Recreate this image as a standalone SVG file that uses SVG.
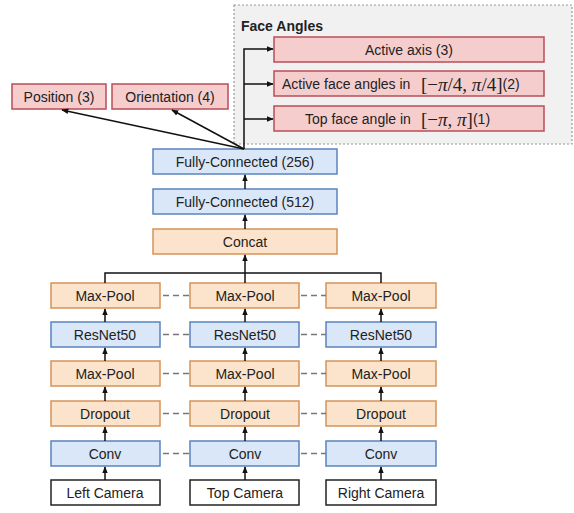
<svg xmlns="http://www.w3.org/2000/svg" width="574" height="513" viewBox="0 0 574 513">
<defs>
<style>
text{font-family:"Liberation Sans",Arial,sans-serif;font-size:14px;fill:#222;text-anchor:middle;dominant-baseline:central}
.s{text-anchor:start}
.m{font-family:"Liberation Serif","Times New Roman",serif;font-size:19px}
.mi{font-style:italic}
.o rect{fill:#fce4cc;stroke:#d4935a;stroke-width:1.5}
.b rect{fill:#d9e7f8;stroke:#5a84bd;stroke-width:1.5}
.r rect{fill:#f6cdcd;stroke:#b84d55;stroke-width:1.5}
.w rect{fill:#fff;stroke:#222;stroke-width:1.5}
.c{stroke:#111;stroke-width:1.5;fill:none}
.d{stroke:#777;stroke-width:1.3;stroke-dasharray:6 4;fill:none}
</style>
<marker id="a" viewBox="0 0 10 10" refX="9" refY="5" markerWidth="7" markerHeight="7" orient="auto-start-reverse" markerUnits="userSpaceOnUse"><path d="M0,1 L10,5 L0,9 z" fill="#111"/></marker>
</defs>
<rect width="574" height="513" fill="#fff"/>
<g id="faceAnglesGroup">
<rect x="234" y="5" width="338" height="139" fill="#f1f1f1" stroke="#999" stroke-width="1.2" stroke-dasharray="2 2"/>
<text x="241" y="26" class="s" style="font-weight:bold;font-size:14px">Face Angles</text>
</g>
<g id="n_axis" class="r"><rect x="274" y="37" width="270" height="25"/><text x="409" y="50">Active axis (3)</text></g>
<g id="n_active" class="r"><rect x="274" y="71" width="270" height="25"/><text x="282" y="84" class="s"><tspan>Active face angles in</tspan><tspan class="m" x="421">[−<tspan class="mi">π</tspan>/4, <tspan class="mi">π</tspan>/4]</tspan><tspan>(2)</tspan></text></g>
<g id="n_top" class="r"><rect x="274" y="106" width="270" height="25"/><text x="305" y="119" class="s"><tspan>Top face angle in</tspan><tspan class="m" x="421">[−<tspan class="mi">π</tspan>, <tspan class="mi">π</tspan>]</tspan><tspan>(1)</tspan></text></g>
<g id="n_pos" class="r"><rect x="12" y="84" width="94" height="25"/><text x="59" y="97">Position (3)</text></g>
<g id="n_ori" class="r"><rect x="112" y="84" width="116" height="25"/><text x="170" y="97">Orientation (4)</text></g>
<g id="n_fc256" class="b"><rect x="153" y="149" width="184" height="25"/><text x="245" y="162">Fully-Connected (256)</text></g>
<g id="n_fc512" class="b"><rect x="153" y="189" width="184" height="25"/><text x="245" y="202">Fully-Connected (512)</text></g>
<g id="n_concat" class="o"><rect x="153" y="229" width="184" height="25"/><text x="245" y="242">Concat</text></g>
<g id="n_mp1_l" class="o"><rect x="51" y="283" width="109" height="25"/><text x="105" y="296">Max-Pool</text></g>
<g id="n_mp1_m" class="o"><rect x="190" y="283" width="109" height="25"/><text x="245" y="296">Max-Pool</text></g>
<g id="n_mp1_r" class="o"><rect x="326" y="283" width="110" height="25"/><text x="381" y="296">Max-Pool</text></g>
<g id="n_res_l" class="b"><rect x="51" y="322" width="109" height="25"/><text x="105" y="335">ResNet50</text></g>
<g id="n_res_m" class="b"><rect x="190" y="322" width="109" height="25"/><text x="245" y="335">ResNet50</text></g>
<g id="n_res_r" class="b"><rect x="326" y="322" width="110" height="25"/><text x="381" y="335">ResNet50</text></g>
<g id="n_mp2_l" class="o"><rect x="51" y="361" width="109" height="25"/><text x="105" y="374">Max-Pool</text></g>
<g id="n_mp2_m" class="o"><rect x="190" y="361" width="109" height="25"/><text x="245" y="374">Max-Pool</text></g>
<g id="n_mp2_r" class="o"><rect x="326" y="361" width="110" height="25"/><text x="381" y="374">Max-Pool</text></g>
<g id="n_do_l" class="o"><rect x="51" y="401" width="109" height="25"/><text x="105" y="414">Dropout</text></g>
<g id="n_do_m" class="o"><rect x="190" y="401" width="109" height="25"/><text x="245" y="414">Dropout</text></g>
<g id="n_do_r" class="o"><rect x="326" y="401" width="110" height="25"/><text x="381" y="414">Dropout</text></g>
<g id="n_conv_l" class="b"><rect x="51" y="441" width="109" height="25"/><text x="105" y="454">Conv</text></g>
<g id="n_conv_m" class="b"><rect x="190" y="441" width="109" height="25"/><text x="245" y="454">Conv</text></g>
<g id="n_conv_r" class="b"><rect x="326" y="441" width="110" height="25"/><text x="381" y="454">Conv</text></g>
<g id="n_cam_l" class="w"><rect x="51" y="480" width="109" height="25"/><text x="105" y="493">Left Camera</text></g>
<g id="n_cam_m" class="w"><rect x="190" y="480" width="109" height="25"/><text x="245" y="493">Top Camera</text></g>
<g id="n_cam_r" class="w"><rect x="326" y="480" width="110" height="25"/><text x="381" y="493">Right Camera</text></g>
<g id="connectors">
<path class="c" d="M244,149 V49 H273" marker-end="url(#a)"/>
<path class="c" d="M244,84 H273" marker-end="url(#a)"/>
<path class="c" d="M244,119 H273" marker-end="url(#a)"/>
<path class="c" d="M244,149 L62,110" marker-end="url(#a)"/>
<path class="c" d="M244,149 L172,110" marker-end="url(#a)"/>
<path class="c" d="M245,189 V175" marker-end="url(#a)"/>
<path class="c" d="M245,229 V215" marker-end="url(#a)"/>
<path class="c" d="M105,283 V273 H381 V283"/>
<path class="c" d="M245,283 V255" marker-end="url(#a)"/>
<g id="cols">
<path class="c" d="M105,322 V309" marker-end="url(#a)"/>
<path class="c" d="M245,322 V309" marker-end="url(#a)"/>
<path class="c" d="M381,322 V309" marker-end="url(#a)"/>
<path class="c" d="M105,361 V348" marker-end="url(#a)"/>
<path class="c" d="M245,361 V348" marker-end="url(#a)"/>
<path class="c" d="M381,361 V348" marker-end="url(#a)"/>
<path class="c" d="M105,401 V387" marker-end="url(#a)"/>
<path class="c" d="M245,401 V387" marker-end="url(#a)"/>
<path class="c" d="M381,401 V387" marker-end="url(#a)"/>
<path class="c" d="M105,441 V427" marker-end="url(#a)"/>
<path class="c" d="M245,441 V427" marker-end="url(#a)"/>
<path class="c" d="M381,441 V427" marker-end="url(#a)"/>
<path class="c" d="M105,480 V467" marker-end="url(#a)"/>
<path class="c" d="M245,480 V467" marker-end="url(#a)"/>
<path class="c" d="M381,480 V467" marker-end="url(#a)"/>
</g>
<path class="d" d="M163,295.5 H190 M301,295.5 H326 M163,334.5 H190 M301,334.5 H326 M163,373.5 H190 M301,373.5 H326 M163,413.5 H190 M301,413.5 H326 M163,453.5 H190 M301,453.5 H326"/>
</g>
</svg>
